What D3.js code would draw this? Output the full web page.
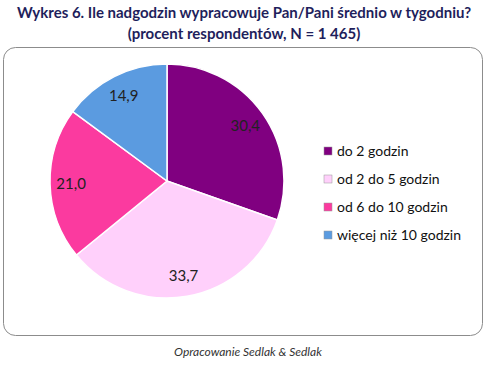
<!DOCTYPE html>
<meta charset="utf-8">
<style>
body { margin: 0; background: #fff; }
text { font-family: Lato, "Open Sans", sans-serif; }
</style>
<svg width="488" height="365"></svg>
<script src="https://cdn.jsdelivr.net/npm/d3@7"></script>
<script>
// data
var categories = ["do 2 godzin", "od 2 do 5 godzin", "od 6 do 10 godzin", "więcej niż 10 godzin"];
var values = [30.4, 33.7, 21.0, 14.9];
var labels = ["30,4", "33,7", "21,0", "14,9"];
var colors = ["#800080", "#ffd0fb", "#fb3a9f", "#5b9be0"];

var svg = d3.select("svg");

// title
svg.append("text")
    .attr("x", 244).attr("y", 18)
    .attr("text-anchor", "middle")
    .style("font-size", "15px").style("font-weight", "bold")
    .attr("fill", "#1f1f5c")
    .text("Wykres 6. Ile nadgodzin wypracowuje Pan/Pani średnio w tygodniu?");
svg.append("text")
    .attr("x", 244).attr("y", 39)
    .attr("text-anchor", "middle")
    .style("font-size", "15px").style("font-weight", "bold")
    .attr("fill", "#1f1f5c")
    .text("(procent respondentów, N = 1 465)");

// frame
svg.append("rect")
    .attr("x", 3.5).attr("y", 47.5)
    .attr("width", 479).attr("height", 288)
    .attr("rx", 12)
    .attr("fill", "none")
    .attr("stroke", "#8c8c8c");

var cx = 167, cy = 181, r = 117;
var g = svg.append("g").attr("transform", "translate(" + cx + "," + cy + ")");

var pie = d3.pie().sort(null).value(function(d) { return d; });
var arc = d3.arc().innerRadius(0).outerRadius(r);
var labelArc = d3.arc().innerRadius(r * 0.82).outerRadius(r * 0.82);

var arcs = pie(values);

g.selectAll("path")
    .data(arcs)
    .enter().append("path")
    .attr("d", arc)
    .attr("fill", function(d, i) { return colors[i]; })
    .attr("stroke", "#fff")
    .attr("stroke-width", 1.5);

g.selectAll(".lbl")
    .data(arcs)
    .enter().append("text")
    .attr("class", "lbl")
    .attr("transform", function(d) { return "translate(" + labelArc.centroid(d) + ")"; })
    .attr("text-anchor", "middle")
    .attr("dy", "0.35em")
    .style("font-size", "15px")
    .attr("fill", "#222")
    .text(function(d, i) { return labels[i]; });

// legend
var legend = svg.append("g")
    .selectAll("g")
    .data(categories)
    .enter().append("g")
    .attr("transform", function(d, i) { return "translate(324," + (151 + i * 28) + ")"; });

legend.append("rect")
    .attr("x", 0).attr("y", -4)
    .attr("width", 8).attr("height", 8)
    .attr("fill", function(d, i) { return colors[i]; })
    .attr("stroke", "#999").attr("stroke-width", 0.5);

legend.append("text")
    .attr("x", 13)
    .attr("dy", "0.35em")
    .style("font-size", "14px")
    .attr("fill", "#111")
    .text(function(d) { return d; });

// footer
svg.append("text")
    .attr("x", 248).attr("y", 356)
    .attr("text-anchor", "middle")
    .style("font-size", "12px").style("font-style", "italic")
    .attr("fill", "#333")
    .text("Opracowanie Sedlak & Sedlak");
</script>
